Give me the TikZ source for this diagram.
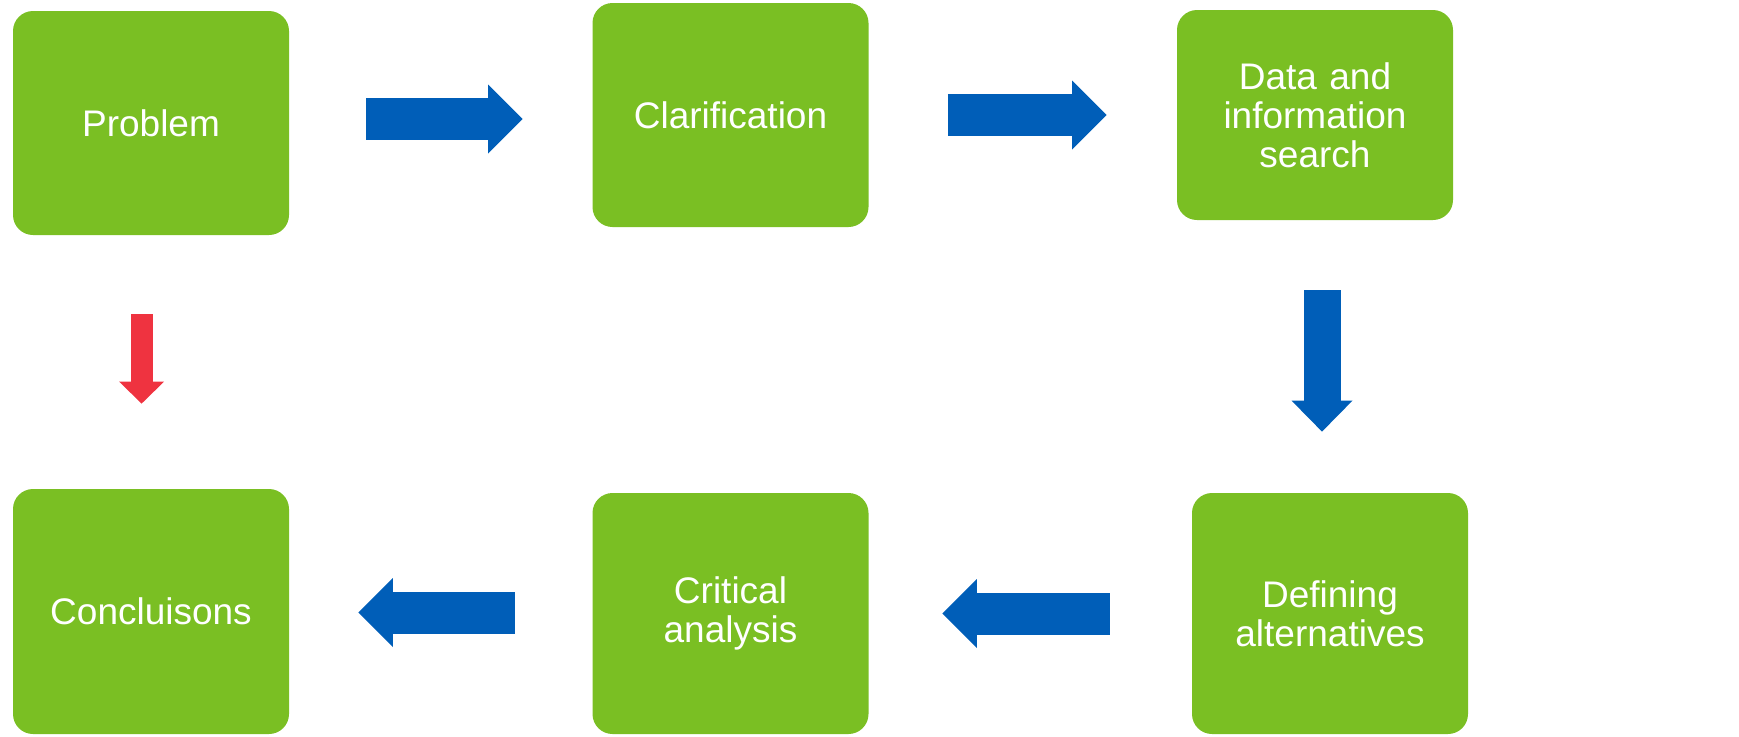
\documentclass[tikz,border=0pt]{standalone}
\usepackage{fontspec}
\setmainfont{Liberation Sans}
\usepackage{xcolor}
\usetikzlibrary{arrows.meta,positioning}

\definecolor{stepgreen}{RGB}{122,191,35}
\definecolor{flowblue}{RGB}{0,94,184}
\definecolor{backred}{RGB}{239,51,64}

\tikzset{
    stepbox/.style={rectangle, rounded corners=10pt, fill=stepgreen, text=white, inner sep=0pt,
        minimum width=138pt, text width=130pt, align=center, font=\fontsize{18.5}{19.5}\selectfont},
    flow/.style={draw=flowblue, line width=21pt, -{Triangle[width=34.5pt, length=17.25pt, line width=0pt, fill=flowblue]}},
    flowdown/.style={draw=flowblue, line width=18.5pt, -{Triangle[width=30.5pt, length=15.5pt, line width=0pt, fill=flowblue]}},
    back/.style={draw=backred, line width=11pt, -{Triangle[width=22.5pt, length=11pt, line width=0pt, fill=backred]}}
}

\begin{document}
\begin{tikzpicture}
    \useasboundingbox (0,0) rectangle (869.5pt,-368pt);

    \node [stepbox, minimum height=112pt] (prob) at (75.5pt,-61.5pt) {Problem};
    \node [stepbox, minimum height=112pt, right of=prob, node distance=289.75pt, yshift=4pt] (clar) {Clarification};
    \node [stepbox, minimum height=105pt, right of=clar, node distance=292.25pt] (data) {Data and\\information\\search};
    \node [stepbox, minimum height=122.5pt, below of=prob, node distance=244.25pt] (concl) {Concluisons};
    \node [stepbox, minimum height=120.5pt, right of=concl, node distance=289.75pt, yshift=-1pt] (crit) {Critical\\analysis};
    \node [stepbox, minimum height=120.5pt, right of=crit, node distance=299.75pt] (defn) {Defining\\alternatives};

    \draw [flow] ([xshift=38.5pt, yshift=2pt]prob.east) -- ([xshift=-34.75pt, yshift=-2pt]clar.west);
    \draw [flow] ([xshift=39.5pt]clar.east) -- ([xshift=-35pt]data.west);
    \draw [flowdown] ([xshift=3.5pt, yshift=-35pt]data.south) -- ([xshift=-4pt, yshift=30.5pt]defn.north);
    \draw [flow] ([xshift=-41pt]defn.west) -- ([xshift=36.75pt]crit.east);
    \draw [flow] ([xshift=-38.75pt, yshift=0.5pt]crit.west) -- ([xshift=34.5pt, yshift=-0.5pt]concl.east);
    \draw [back] ([xshift=-4.7pt, yshift=-39.5pt]prob.south) -- ([xshift=-4.7pt, yshift=42.5pt]concl.north);
\end{tikzpicture}
\end{document}
